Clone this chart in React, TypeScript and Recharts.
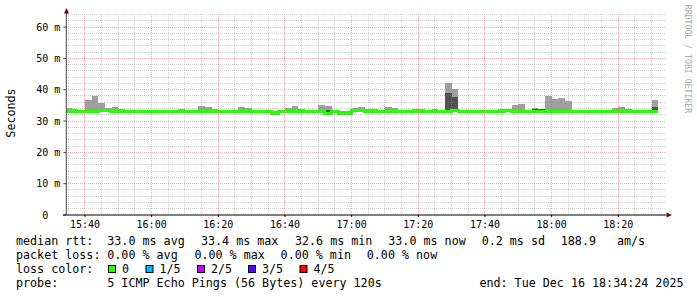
import React from "react";
import { ComposedChart, Area, Line, XAxis, YAxis, ReferenceLine } from "recharts";

// time axis is minutes after 15:00, values are milliseconds
const binStart = 34; // first 120 s bin starts 15:34
const binStep = 2;
const viewStart = 34.4; // 15:34:24
const viewEnd = 214.4; // 18:34:24

const median = [
  32.9, 32.9, 32.9, 32.9, 32.9, 33.3, 33.3, 32.9, 32.9, 32.9,
  32.9, 32.9, 32.9, 32.9, 32.9, 32.9, 32.9, 32.9, 32.9, 32.9,
  32.9, 32.9, 32.9, 32.9, 32.9, 32.9, 32.9, 32.9, 32.9, 32.9,
  32.9, 32.55, 32.9, 32.9, 32.9, 32.9, 32.9, 32.9, 32.9, 32.55,
  32.9, 32.55, 32.55, 33.3, 33.3, 32.9, 32.9, 32.9, 32.9, 32.9,
  32.9, 32.9, 32.9, 32.9, 32.9, 32.9, 32.9, 32.9, 33.3, 32.9,
  32.9, 32.9, 32.9, 32.9, 32.9, 32.9, 33.3, 32.9, 32.9, 33.2,
  33.2, 33.2, 32.9, 32.9, 32.9, 32.9, 32.9, 32.9, 32.9, 32.9,
  32.9, 32.9, 32.9, 32.9, 32.9, 32.9, 32.9, 32.9, 32.9,
];

// 4th of 5 pings (dark smoke top)
const smokeInner = [
  33.5, 33.0, 33.0, 33.6, 33.0, 33.4, 33.4, 33.0, 33.0, 33.0,
  33.0, 33.0, 33.0, 33.0, 33.0, 33.0, 33.0, 33.0, 33.0, 33.0,
  33.0, 33.6, 33.6, 33.0, 33.0, 33.0, 33.6, 33.0, 33.0, 33.0,
  33.0, 32.7, 33.0, 33.0, 33.6, 33.0, 33.0, 33.0, 33.0, 33.5,
  33.0, 32.7, 32.7, 33.4, 33.4, 33.0, 33.0, 33.0, 33.0, 33.0,
  33.0, 33.0, 33.0, 33.0, 33.0, 33.0, 33.0, 39.0, 37.7, 33.0,
  33.0, 33.0, 33.0, 33.0, 33.0, 33.0, 33.4, 33.0, 33.0, 33.3,
  33.8, 33.8, 33.0, 33.0, 33.0, 33.0, 33.0, 33.0, 33.0, 33.0,
  33.0, 33.0, 33.0, 33.0, 33.0, 33.0, 33.0, 33.0, 34.6,
];

// max of 5 pings (light smoke top)
const smokeOuter = [
  34.1, 33.8, 33.5, 36.7, 38.0, 35.7, 34.1, 34.5, 33.8, 33.5,
  33.2, 33.2, 33.2, 33.5, 33.2, 33.2, 33.5, 33.8, 33.2, 33.2,
  34.8, 34.5, 33.8, 33.2, 33.2, 33.2, 34.5, 34.1, 33.2, 33.2,
  33.2, 33.2, 33.2, 34.1, 34.8, 33.8, 33.2, 33.5, 35.1, 34.8,
  33.2, 33.2, 33.2, 34.1, 34.5, 33.8, 33.8, 33.5, 34.5, 34.1,
  33.2, 33.2, 33.8, 33.8, 33.4, 33.8, 33.4, 42.1, 40.2, 33.2,
  33.2, 33.2, 33.2, 33.2, 33.2, 33.8, 33.4, 35.1, 35.4, 33.4,
  34.1, 33.8, 38.0, 37.0, 37.3, 36.4, 33.2, 33.2, 33.5, 33.5,
  33.2, 33.2, 34.3, 34.5, 33.8, 33.2, 33.2, 33.2, 36.7,
];

const timeTicks = [40, 60, 80, 100, 120, 140, 160, 180, 200];
const timeLabels = ["15:40", "16:00", "16:20", "16:40", "17:00", "17:20", "17:40", "18:00", "18:20"];
const minorTimes = [
  35, 45, 50, 55, 65, 70, 75, 85, 90, 95, 105, 110, 115, 125, 130, 135,
  145, 150, 155, 165, 170, 175, 185, 190, 195, 205, 210,
];
const valueTicks = [0, 10, 20, 30, 40, 50, 60];
const majorValues = [10, 20, 30, 40, 50, 60];
const minorValues = [
  2, 4, 6, 8, 12, 14, 16, 18, 22, 24, 26, 28, 32, 34, 36, 38, 42, 44, 46, 48,
  52, 54, 56, 58, 62, 64,
];

const lossColors = [
  { label: "0", color: "#26ff00" },
  { label: "1/5", color: "#00b8ff" },
  { label: "2/5", color: "#c800ff" },
  { label: "3/5", color: "#5a00ff" },
  { label: "4/5", color: "#ff0000" },
];
const lossBoxX = [108.5, 146, 197.5, 248.5, 300];

const mono = "'DejaVu Sans Mono', monospace";

const chartData = median.map((m, i) => ({
  t: binStart + i * binStep,
  median: m,
  inner: [m, smokeInner[i]],
  outer: [m, smokeOuter[i]],
}));
const lastRow = chartData[chartData.length - 1];
chartData.push({ ...lastRow, t: lastRow.t + binStep });

const TimeTick = (props: any) => {
  const idx = timeTicks.indexOf(props.payload.value);
  return (
    <text x={props.x} y={props.y} dy="0.71em" textAnchor="middle" fontFamily={mono} fontSize={10} fill="#000">
      {timeLabels[idx]}
    </text>
  );
};

const ValueTick = (props: any) => {
  const v = props.payload.value;
  return (
    <text
      x={v === 0 ? props.x - 12 : props.x}
      y={props.y}
      dy="0.35em"
      textAnchor="end"
      fontFamily={mono}
      fontSize={10}
      fill="#000"
    >
      {v === 0 ? "0" : `${v} m`}
    </text>
  );
};

const rttItems: [string, number][] = [
  ["median rtt:", 16],
  ["33.0 ms avg", 107.3],
  ["33.4 ms max", 201],
  ["32.6 ms min", 295],
  ["33.0 ms now", 388.3],
  ["0.2 ms sd", 481.7],
  ["188.9", 560.8],
  ["am/s", 617],
];
const lossItems: [string, number][] = [
  ["packet loss:", 16],
  ["0.00 % avg", 107.3],
  ["0.00 % max", 194.4],
  ["0.00 % min", 280.6],
  ["0.00 % now", 366.8],
];

export default function App() {
  const legendFont = { fontFamily: mono, fontSize: 11.7, fill: "#000" };
  const gridMinor = { stroke: "#8f8f8f", strokeOpacity: 0.42, strokeDasharray: "1 1", shapeRendering: "crispEdges" };
  const gridMajor = { stroke: "#e05050", strokeOpacity: 0.45, strokeDasharray: "1 1", shapeRendering: "crispEdges" };
  return (
    <div style={{ position: "absolute", left: 0, top: 0, width: 697, height: 297, background: "#fff" }}>
      <ComposedChart width={697} height={297} data={chartData} margin={{ top: 13, right: 30.7, bottom: 0, left: 0 }}>
        <XAxis
          type="number"
          dataKey="t"
          domain={[viewStart, viewEnd]}
          allowDataOverflow
          ticks={timeTicks}
          interval={0}
          height={82}
          tickSize={2}
          tickMargin={4}
          tick={TimeTick}
          axisLine={{ stroke: "#000" }}
          tickLine={{ stroke: "#000" }}
        />
        <YAxis
          type="number"
          domain={[0, 64.5]}
          allowDataOverflow
          ticks={valueTicks}
          interval={0}
          width={66.3}
          tickSize={3}
          tickMargin={3}
          tick={ValueTick}
          axisLine={{ stroke: "#444" }}
          tickLine={{ stroke: "#444" }}
        />
        <Area dataKey="outer" type="stepAfter" fill="#a0a0a0" fillOpacity={1} stroke="none" shapeRendering="crispEdges" isAnimationActive={false} />
        <Area dataKey="inner" type="stepAfter" fill="#505050" fillOpacity={1} stroke="none" shapeRendering="crispEdges" isAnimationActive={false} />
        <Line dataKey="median" type="stepAfter" stroke="#26ff00" strokeWidth={3} dot={false} shapeRendering="crispEdges" isAnimationActive={false} />
        {minorValues.map((v) => (
          <ReferenceLine key={`my${v}`} y={v} {...gridMinor} />
        ))}
        {minorTimes.map((v) => (
          <ReferenceLine key={`mx${v}`} x={v} {...gridMinor} />
        ))}
        {majorValues.map((v) => (
          <ReferenceLine key={`My${v}`} y={v} {...gridMajor} />
        ))}
        {timeTicks.map((v) => (
          <ReferenceLine key={`Mx${v}`} x={v} {...gridMajor} />
        ))}
      </ComposedChart>

      <svg width={697} height={297} style={{ position: "absolute", left: 0, top: 0, pointerEvents: "none" }}>
        <line x1={63} y1={215} x2={66.3} y2={215} stroke="#000" />
        <polygon points="64,13.5 69,13.5 66.5,8" fill="#800000" />
        <polygon points="666.5,212.5 666.5,217.5 672,215" fill="#800000" />
        <text x={11} y={113} transform="rotate(-90 11 113)" textAnchor="middle" dominantBaseline="central" {...legendFont}>
          Seconds
        </text>
        <text
          x={688}
          y={59}
          transform="rotate(90 688 59)"
          textAnchor="middle"
          dominantBaseline="central"
          fontFamily={mono}
          fontSize={8.2}
          fill="#a8a8a8"
        >
          RRDTOOL / TOBI OETIKER
        </text>

        {rttItems.map(([s, x]) => (
          <text key={s} x={x} y={245} {...legendFont}>{s}</text>
        ))}
        {lossItems.map(([s, x]) => (
          <text key={s} x={x} y={259} {...legendFont}>{s}</text>
        ))}

        <text x={16} y={273} {...legendFont}>loss color:</text>
        {lossColors.map((c, i) => (
          <g key={c.label}>
            <rect x={lossBoxX[i]} y={265.5} width={7} height={7} fill={c.color} stroke="#000" strokeWidth={1} />
            <text x={lossBoxX[i] + 13.5} y={273} {...legendFont}>{c.label}</text>
          </g>
        ))}

        <text x={16} y={287} {...legendFont}>probe:</text>
        <text x={107.3} y={287} {...legendFont}>5 ICMP Echo Pings (56 Bytes) every 120s</text>
        <text x={683.5} y={287} textAnchor="end" {...legendFont}>end: Tue Dec 16 18:34:24 2025</text>
      </svg>
    </div>
  );
}
